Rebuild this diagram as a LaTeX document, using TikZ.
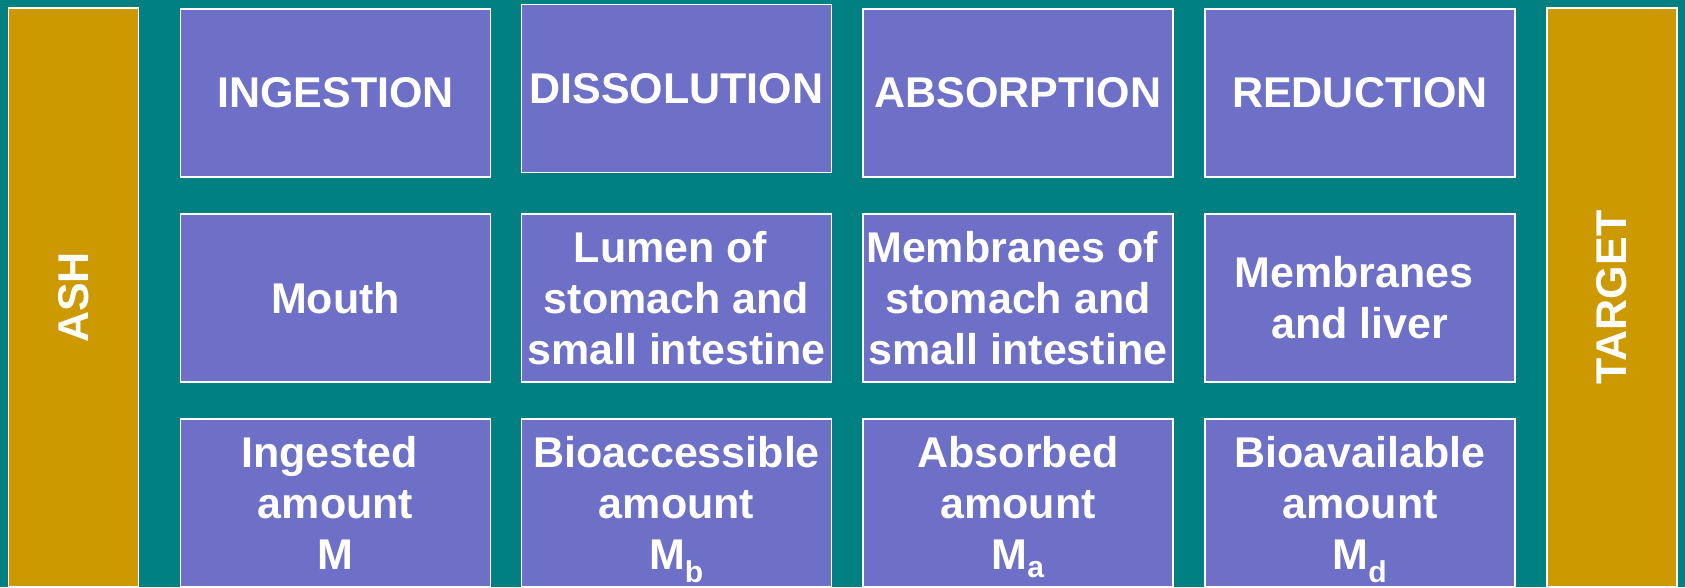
\documentclass[tikz,border=0pt]{standalone}
\usepackage{fontspec}
\setmainfont{Liberation Sans}
\usetikzlibrary{positioning}
\definecolor{bgteal}{HTML}{008080}
\definecolor{stageblue}{HTML}{6E6FC6}
\definecolor{endgold}{HTML}{CC9900}
\newcommand{\trail}{\hspace*{12pt}}

\begin{document}
\begin{tikzpicture}[
    x=1pt, y=-1pt,
    cell/.style={rectangle, draw=white, line width=1.5pt, fill=stageblue, minimum width=310pt, minimum height=168pt, inner sep=0pt, align=center, text=white, font=\fontsize{43}{51}\selectfont\bfseries},
    bar/.style={rectangle, draw=white, line width=1.5pt, fill=endgold, minimum width=579pt, minimum height=130pt, inner sep=0pt, rotate=90, text=white, font=\fontsize{43}{51}\selectfont\bfseries}
]
    \useasboundingbox (0,0) rectangle (1685,587);
    \fill[bgteal] (0,0) rectangle (1685,587);

    \node[bar] (ash) at (73.5,297.5) {ASH};
    \node[bar] (target) at (1612,297.5) {TARGET};

    \foreach \n/\x/\y/\txt in {ing/335.5/93/{INGESTION}, dis/676.5/88.5/{DISSOLUTION}, abs/1018/93/{ABSORPTION}, red/1360/93/{REDUCTION}} {
        \node[cell] (\n) at (\x,\y) {\txt};
    }

    \foreach \n/\x/\txt in {mouth/335.5/{Mouth}, lumen/676.5/{Lumen of\trail\\stomach and\trail\\small intestine}, memb/1018/{Membranes of\trail\\stomach and\trail\\small intestine}, liver/1360/{Membranes\trail\\and liver}} {
        \node[cell] (\n) at (\x,298) {\txt};
    }

    \foreach \n/\x/\txt in {ingamt/335.5/{Ingested\trail\\amount\\M}, bioacc/676.5/{Bioaccessible\\amount\\M\smash{\textsubscript{b}}}, absamt/1018/{Absorbed\\amount\\M\smash{\textsubscript{a}}}, bioav/1360/{Bioavailable\\amount\\M\smash{\textsubscript{d}}}} {
        \node[cell] (\n) at (\x,503) {\txt};
    }
\end{tikzpicture}
\end{document}
